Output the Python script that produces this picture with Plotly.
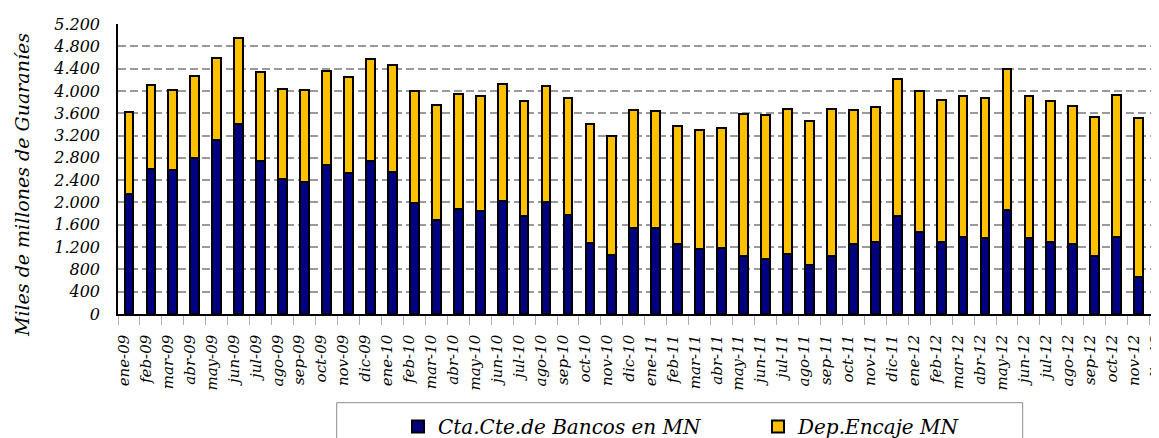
import plotly.graph_objects as go

months = ["ene", "feb", "mar", "abr", "may", "jun", "jul", "ago", "sep", "oct", "nov", "dic"]
years = ["09", "10", "11", "12"]
categories = [f"{m}-{y}" for y in years for m in months]

cta_cte = [2150, 2595, 2575, 2805, 3120, 3410, 2745, 2415, 2365, 2680, 2530, 2750,
           2540, 1990, 1680, 1885, 1845, 2035, 1755, 2015, 1775, 1280, 1060, 1550,
           1535, 1250, 1160, 1190, 1040, 990, 1070, 880, 1035, 1250, 1285, 1765,
           1465, 1290, 1375, 1355, 1865, 1365, 1300, 1260, 1045, 1385, 665, 2050]

dep_encaje = [1470, 1515, 1445, 1455, 1470, 1540, 1600, 1620, 1655, 1685, 1715, 1815,
              1920, 2015, 2075, 2055, 2070, 2090, 2070, 2080, 2105, 2125, 2135, 2110,
              2110, 2130, 2145, 2145, 2550, 2585, 2605, 2585, 2645, 2400, 2425, 2440,
              2540, 2540, 2540, 2525, 2520, 2550, 2515, 2475, 2485, 2535, 2855, 2870]

series_names = ["Cta.Cte.de Bancos en MN", "Dep.Encaje MN"]
y_title = "Miles de millones de Guaraníes"

FONT = "DejaVu Serif"

# figure geometry (page body has an 8px margin)
W, H = 1159, 438
L, T, B = 110, 16, 132
PW = W - L
PH = H - T - B


def px(fx):
    return (fx - L) / PW


def py(fy):
    return (T + PH - fy) / PH


fig = go.Figure()
fig.add_trace(go.Bar(x=categories, y=cta_cte, name=series_names[0],
                     marker=dict(color="#000080", line=dict(color="black", width=2))))
fig.add_trace(go.Bar(x=categories, y=dep_encaje, name=series_names[1],
                     marker=dict(color="#FFC000", line=dict(color="black", width=2))))

# legend frame (runs past the bottom edge as in the original)
fig.add_shape(type="rect", xref="paper", yref="paper",
              x0=px(328.7), x1=px(1014.7), y0=py(470), y1=py(394.7),
              line=dict(color="#8c8c8c", width=1), fillcolor="rgba(0,0,0,0)", layer="above")

fig.add_annotation(text=y_title, xref="paper", yref="paper",
                   x=px(14), y=py(177), xanchor="center", yanchor="middle",
                   textangle=-90, showarrow=False,
                   font=dict(family=FONT, size=19, style="italic", color="black"))

fig.update_layout(
    width=W, height=H,
    margin=dict(l=L, r=0, t=T, b=B, autoexpand=False),
    plot_bgcolor="white", paper_bgcolor="white",
    barmode="stack", bargap=0.6,
    separators=",.",
    font=dict(family=FONT, size=16, color="black", style="italic"),
    showlegend=True,
    legend=dict(orientation="h", traceorder="normal",
                x=px(390), xanchor="left", y=py(399), yanchor="top",
                font=dict(family=FONT, size=20, style="italic", color="black"),
                entrywidth=315, entrywidthmode="pixels",
                borderwidth=0, bgcolor="rgba(0,0,0,0)"),
    xaxis=dict(type="category", range=[-0.5, 47.29], tickangle=-90,
               showline=True, linecolor="black", linewidth=1.5,
               ticks="outside", tickson="boundaries", ticklen=9, tickcolor="#b0b0b0", tickwidth=1,
               ticklabelstandoff=13, ticklabelshift=-5,
               tickfont=dict(family=FONT, size=15, style="italic", color="black"),
               showgrid=False, automargin=False),
    yaxis=dict(range=[0, 5200], dtick=400, tick0=0, tickformat=",",
               showline=True, linecolor="black", linewidth=1.5,
               ticks="", ticklabelstandoff=13,
               showgrid=True, gridcolor="#9a9a9a", gridwidth=2, griddash="8px,4px",
               zeroline=False,
               tickfont=dict(family=FONT, size=16, style="italic", color="black"),
               automargin=False),
)

fig.write_html("out.html")
